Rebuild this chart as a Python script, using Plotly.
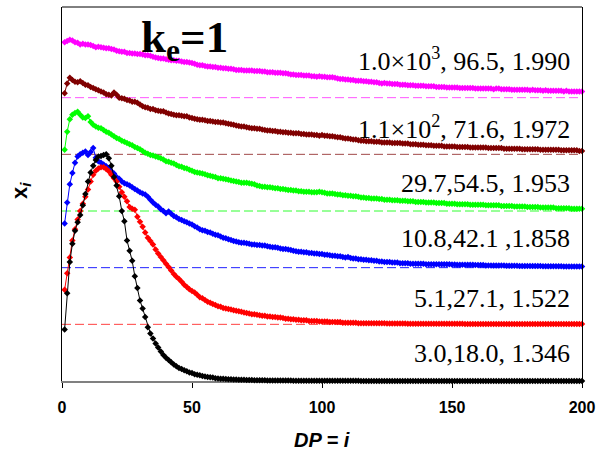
import plotly.graph_objects as go

dp = list(range(1, 201))

black = [
    0.91, 1.55, 2.10, 2.42, 2.65, 2.80, 2.93, 3.10, 3.30, 3.52,
    3.68, 3.80, 3.90, 3.96, 3.97, 3.99, 4.00, 3.93, 3.80, 3.60,
    3.45, 3.26, 3.00, 2.82, 2.48, 2.30, 2.12, 1.85, 1.64, 1.42,
    1.28, 1.13, 0.95, 0.84, 0.75, 0.66, 0.59, 0.52, 0.46, 0.41,
    0.37, 0.33, 0.29, 0.26, 0.23, 0.21, 0.19, 0.17, 0.15, 0.14,
    0.12, 0.11, 0.10, 0.09, 0.08, 0.07, 0.065, 0.06, 0.05, 0.045,
    0.04, 0.04, 0.035, 0.03, 0.03, 0.025, 0.025, 0.02, 0.02, 0.02,
    0.018, 0.017, 0.016, 0.015, 0.014, 0.013, 0.012, 0.012, 0.011, 0.010,
    0.010, 0.009, 0.009, 0.008, 0.008, 0.007, 0.007, 0.007, 0.006, 0.006,
    0.006, 0.005, 0.005, 0.005, 0.005, 0.004, 0.004, 0.004, 0.004, 0.004,
    0.003, 0.003, 0.003, 0.003, 0.003, 0.003, 0.003, 0.003, 0.003, 0.003,
    0.003, 0.003, 0.003, 0.003, 0.002, 0.002, 0.002, 0.002, 0.002, 0.002,
    0.002, 0.002, 0.002, 0.002, 0.002, 0.002, 0.002, 0.002, 0.002, 0.002,
    0.002, 0.002, 0.002, 0.002, 0.002, 0.002, 0.0015, 0.0015, 0.0015, 0.0015,
    0.0015, 0.0015, 0.0015, 0.0015, 0.0015, 0.0015, 0.0015, 0.0015, 0.0015, 0.0015,
    0.001, 0.001, 0.001, 0.001, 0.001, 0.001, 0.001, 0.001, 0.001, 0.001,
    0.001, 0.001, 0.001, 0.001, 0.001, 0.001, 0.001, 0.001, 0.001, 0.001,
    0.001, 0.001, 0.001, 0.001, 0.001, 0.001, 0.001, 0.001, 0.001, 0.001,
    0.001, 0.001, 0.001, 0.001, 0.001, 0.001, 0.001, 0.001, 0.001, 0.001,
    0.001, 0.001, 0.001, 0.001, 0.001, 0.001, 0.001, 0.001, 0.001, 0.001,
]

red = [
    0.61, 0.90, 1.18, 1.48, 1.68, 1.85, 2.00, 2.13, 2.25, 2.38,
    2.52, 2.64, 2.71, 2.75, 2.77, 2.77, 2.74, 2.70, 2.64, 2.58,
    2.52, 2.43, 2.33, 2.25, 2.17, 2.07, 2.04, 2.02, 1.90, 1.81,
    1.72, 1.62, 1.53, 1.47, 1.41, 1.32, 1.25, 1.19, 1.13, 1.07,
    1.01, 0.95, 0.89, 0.84, 0.80, 0.75, 0.70, 0.66, 0.62, 0.59,
    0.56, 0.52, 0.48, 0.46, 0.43, 0.40, 0.38, 0.36, 0.34, 0.32,
    0.31, 0.29, 0.28, 0.27, 0.26, 0.25, 0.24, 0.23, 0.22, 0.21,
    0.20, 0.19, 0.18, 0.18, 0.17, 0.16, 0.15, 0.15, 0.14, 0.14,
    0.13, 0.13, 0.12, 0.12, 0.11, 0.10, 0.10, 0.09, 0.09, 0.08,
    0.08, 0.07, 0.07, 0.07, 0.06, 0.06, 0.06, 0.06, 0.05, 0.05,
    0.05, 0.05, 0.04, 0.04, 0.04, 0.04, 0.04, 0.03, 0.03, 0.03,
    0.03, 0.03, 0.03, 0.02, 0.02, 0.02, 0.02, 0.02, 0.02, 0.02,
    0.02, 0.02, 0.02, 0.02, 0.015, 0.015, 0.015, 0.015, 0.015, 0.015,
    0.015, 0.015, 0.012, 0.012, 0.012, 0.012, 0.012, 0.012, 0.012, 0.012,
    0.010, 0.010, 0.010, 0.010, 0.010, 0.010, 0.010, 0.010, 0.010, 0.010,
    0.010, 0.010, 0.010, 0.010, 0.008, 0.008, 0.008, 0.008, 0.008, 0.008,
    0.008, 0.008, 0.007, 0.007, 0.007, 0.007, 0.007, 0.007, 0.007, 0.007,
    0.006, 0.006, 0.006, 0.006, 0.006, 0.006, 0.006, 0.006, 0.006, 0.006,
    0.005, 0.005, 0.005, 0.005, 0.005, 0.005, 0.005, 0.005, 0.005, 0.005,
    0.005, 0.005, 0.005, 0.005, 0.004, 0.004, 0.004, 0.004, 0.004, 0.004,
]

blue = [
    0.78, 1.15, 1.47, 1.67, 1.85, 1.96, 2.00, 2.03, 2.05, 1.99,
    2.04, 2.11, 1.94, 1.88, 1.85, 1.82, 1.79, 1.76, 1.70, 1.66,
    1.60, 1.57, 1.52, 1.49, 1.47, 1.45, 1.42, 1.39, 1.36, 1.33,
    1.31, 1.29, 1.25, 1.20, 1.15, 1.11, 1.08, 1.03, 1.00, 0.96,
    0.99, 0.95, 0.91, 0.89, 0.86, 0.84, 0.82, 0.80, 0.78, 0.76,
    0.73, 0.71, 0.68, 0.66, 0.65, 0.63, 0.62, 0.60, 0.58, 0.57,
    0.55, 0.53, 0.52, 0.50, 0.49, 0.47, 0.46, 0.45, 0.44, 0.44,
    0.43, 0.42, 0.41, 0.41, 0.40, 0.40, 0.39, 0.39, 0.38, 0.37,
    0.36, 0.36, 0.35, 0.34, 0.33, 0.33, 0.32, 0.31, 0.30, 0.29,
    0.28, 0.28, 0.27, 0.27, 0.26, 0.26, 0.25, 0.25, 0.24, 0.24,
    0.23, 0.23, 0.22, 0.21, 0.21, 0.20, 0.20, 0.19, 0.18, 0.19,
    0.17, 0.16, 0.16, 0.15, 0.15, 0.14, 0.14, 0.13, 0.13, 0.12,
    0.12, 0.11, 0.11, 0.10, 0.10, 0.10, 0.09, 0.09, 0.09, 0.08,
    0.08, 0.08, 0.08, 0.07, 0.07, 0.07, 0.07, 0.07, 0.07, 0.06,
    0.06, 0.06, 0.06, 0.06, 0.06, 0.06, 0.06, 0.06, 0.06, 0.055,
    0.055, 0.05, 0.05, 0.05, 0.05, 0.05, 0.05, 0.05, 0.045, 0.045,
    0.045, 0.045, 0.04, 0.04, 0.04, 0.04, 0.04, 0.04, 0.04, 0.04,
    0.035, 0.035, 0.035, 0.035, 0.035, 0.03, 0.03, 0.03, 0.03, 0.03,
    0.03, 0.03, 0.03, 0.03, 0.025, 0.025, 0.025, 0.025, 0.025, 0.025,
    0.025, 0.025, 0.02, 0.02, 0.02, 0.02, 0.02, 0.02, 0.02, 0.02,
]

green = [
    1.08, 1.40, 1.62, 1.70, 1.73, 1.75, 1.70, 1.65, 1.64, 1.67,
    1.57, 1.52, 1.49, 1.47, 1.46, 1.43, 1.40, 1.38, 1.35, 1.32,
    1.29, 1.27, 1.24, 1.22, 1.20, 1.18, 1.16, 1.13, 1.11, 1.09,
    1.06, 1.03, 1.01, 0.99, 0.98, 0.96, 0.95, 0.93, 0.91, 0.88,
    0.87, 0.85, 0.84, 0.81, 0.79, 0.78, 0.76, 0.75, 0.73, 0.71,
    0.69, 0.68, 0.67, 0.66, 0.65, 0.63, 0.62, 0.61, 0.60, 0.58,
    0.58, 0.57, 0.56, 0.55, 0.54, 0.53, 0.52, 0.51, 0.50, 0.50,
    0.50, 0.49, 0.48, 0.47, 0.45, 0.44, 0.43, 0.43, 0.42, 0.42,
    0.41, 0.40, 0.40, 0.39, 0.39, 0.38, 0.37, 0.37, 0.36, 0.36,
    0.35, 0.35, 0.34, 0.34, 0.34, 0.33, 0.33, 0.33, 0.34, 0.33,
    0.32, 0.31, 0.31, 0.31, 0.30, 0.29, 0.29, 0.28, 0.28, 0.27,
    0.27, 0.26, 0.26, 0.25, 0.24, 0.24, 0.23, 0.23, 0.22, 0.22,
    0.22, 0.21, 0.21, 0.20, 0.20, 0.20, 0.19, 0.19, 0.19, 0.18,
    0.18, 0.18, 0.17, 0.17, 0.17, 0.16, 0.16, 0.16, 0.16, 0.15,
    0.15, 0.15, 0.15, 0.14, 0.14, 0.14, 0.14, 0.13, 0.13, 0.13,
    0.13, 0.12, 0.12, 0.12, 0.12, 0.12, 0.11, 0.11, 0.11, 0.11,
    0.11, 0.11, 0.10, 0.10, 0.10, 0.10, 0.10, 0.10, 0.09, 0.09,
    0.09, 0.09, 0.09, 0.08, 0.08, 0.08, 0.08, 0.08, 0.07, 0.07,
    0.07, 0.07, 0.07, 0.06, 0.06, 0.06, 0.06, 0.06, 0.06, 0.05,
    0.05, 0.05, 0.05, 0.05, 0.05, 0.04, 0.04, 0.04, 0.04, 0.04,
]

brown = [
    1.08, 1.25, 1.35, 1.31, 1.28, 1.27, 1.29, 1.26, 1.23, 1.22,
    1.19, 1.17, 1.15, 1.13, 1.11, 1.09, 1.06, 1.05, 1.04, 1.09,
    1.05, 1.00, 0.99, 0.98, 0.96, 0.95, 0.93, 0.93, 0.91, 0.88,
    0.85, 0.83, 0.82, 0.80, 0.80, 0.78, 0.77, 0.76, 0.76, 0.74,
    0.72, 0.71, 0.70, 0.69, 0.69, 0.68, 0.67, 0.67, 0.65, 0.64,
    0.63, 0.62, 0.61, 0.61, 0.60, 0.59, 0.59, 0.58, 0.57, 0.57,
    0.56, 0.56, 0.55, 0.54, 0.53, 0.52, 0.51, 0.50, 0.49, 0.49,
    0.48, 0.47, 0.46, 0.46, 0.45, 0.45, 0.44, 0.43, 0.42, 0.42,
    0.41, 0.41, 0.40, 0.40, 0.39, 0.39, 0.38, 0.38, 0.37, 0.37,
    0.37, 0.36, 0.36, 0.35, 0.35, 0.35, 0.34, 0.34, 0.33, 0.34,
    0.33, 0.33, 0.32, 0.32, 0.31, 0.30, 0.30, 0.29, 0.28, 0.28,
    0.27, 0.26, 0.26, 0.25, 0.24, 0.24, 0.23, 0.23, 0.23, 0.22,
    0.22, 0.22, 0.21, 0.21, 0.21, 0.21, 0.20, 0.20, 0.20, 0.20,
    0.19, 0.19, 0.19, 0.18, 0.18, 0.18, 0.17, 0.17, 0.17, 0.16,
    0.16, 0.16, 0.15, 0.15, 0.15, 0.15, 0.14, 0.14, 0.14, 0.14,
    0.14, 0.13, 0.13, 0.13, 0.13, 0.13, 0.12, 0.12, 0.12, 0.12,
    0.12, 0.12, 0.12, 0.11, 0.11, 0.11, 0.11, 0.11, 0.11, 0.10,
    0.10, 0.10, 0.10, 0.10, 0.10, 0.10, 0.09, 0.09, 0.09, 0.09,
    0.09, 0.09, 0.09, 0.08, 0.08, 0.08, 0.08, 0.08, 0.08, 0.08,
    0.08, 0.07, 0.07, 0.07, 0.07, 0.07, 0.07, 0.07, 0.06, 0.06,
]

magenta = [
    0.98, 1.00, 1.02, 1.01, 0.98, 0.97, 0.94, 0.95, 0.94, 0.94,
    0.93, 0.91, 0.89, 0.90, 0.89, 0.88, 0.87, 0.87, 0.86, 0.85,
    0.83, 0.82, 0.81, 0.81, 0.79, 0.79, 0.78, 0.78, 0.77, 0.77,
    0.76, 0.75, 0.75, 0.74, 0.72, 0.71, 0.70, 0.69, 0.69, 0.68,
    0.67, 0.66, 0.66, 0.65, 0.65, 0.64, 0.63, 0.63, 0.62, 0.61,
    0.60, 0.58, 0.57, 0.57, 0.56, 0.55, 0.55, 0.54, 0.54, 0.53,
    0.53, 0.52, 0.52, 0.51, 0.51, 0.50, 0.49, 0.49, 0.49, 0.48,
    0.48, 0.48, 0.48, 0.47, 0.47, 0.47, 0.46, 0.46, 0.45, 0.45,
    0.45, 0.44, 0.44, 0.44, 0.43, 0.43, 0.42, 0.41, 0.41, 0.40,
    0.40, 0.40, 0.39, 0.39, 0.39, 0.38, 0.38, 0.37, 0.38, 0.37,
    0.37, 0.36, 0.36, 0.36, 0.35, 0.34, 0.33, 0.33, 0.32, 0.32,
    0.31, 0.31, 0.30, 0.30, 0.30, 0.29, 0.29, 0.28, 0.28, 0.27,
    0.27, 0.26, 0.25, 0.26, 0.25, 0.25, 0.24, 0.24, 0.24, 0.23,
    0.23, 0.23, 0.22, 0.22, 0.22, 0.21, 0.21, 0.21, 0.21, 0.20,
    0.20, 0.20, 0.20, 0.19, 0.19, 0.19, 0.19, 0.18, 0.18, 0.18,
    0.18, 0.18, 0.17, 0.17, 0.17, 0.17, 0.17, 0.17, 0.16, 0.16,
    0.16, 0.16, 0.16, 0.16, 0.16, 0.15, 0.16, 0.16, 0.15, 0.15,
    0.15, 0.15, 0.14, 0.14, 0.14, 0.14, 0.14, 0.14, 0.14, 0.13,
    0.14, 0.13, 0.13, 0.13, 0.12, 0.13, 0.12, 0.12, 0.12, 0.12,
    0.12, 0.12, 0.11, 0.12, 0.11, 0.11, 0.11, 0.11, 0.11, 0.11,
]

series = [black, red, blue, green, brown, magenta]
labels = [
    "3.0,18.0, 1.346",
    "5.1,27.1, 1.522",
    "10.8,42.1 ,1.858",
    "29.7,54.5, 1.953",
    "1.1\u00d710<sup>2</sup>, 71.6, 1.972",
    "1.0\u00d710<sup>3</sup>, 96.5, 1.990",
]
title_text = "k<sub>e</sub>=1"
for s in series:
    assert len(s) == 200, len(s)

# layout / style
offsets = [0, 1, 2, 3, 4, 5]
colors = ["#000000", "#FF0000", "#0000FF", "#00FF00", "#800000", "#FF00FF"]
dash_colors = ["#000000", "#FF4040", "#2020FF", "#30FF30", "#A04848", "#FF55FF"]
label_y = [0.48, 1.45, 2.52, 3.49, 4.48, 5.67]

fig = go.Figure()

# dashed baselines
for k in range(1, 6):
    fig.add_trace(go.Scatter(
        x=[0, 200], y=[offsets[k], offsets[k]], mode="lines",
        line=dict(color=dash_colors[k], width=1, dash="9px,4px"),
        hoverinfo="skip", showlegend=False))

# curves (top first, black last)
for k in range(5, -1, -1):
    fig.add_trace(go.Scatter(
        x=dp, y=[v + offsets[k] for v in series[k]], mode="lines+markers",
        line=dict(color=colors[k], width=1),
        marker=dict(symbol="diamond", size=5, color=colors[k]),
        cliponaxis=False, showlegend=False))

annotations = []
for k in range(6):
    annotations.append(dict(
        x=196.2, y=label_y[k], xref="x", yref="y", xanchor="right", yanchor="middle",
        text=labels[k], showarrow=False,
        font=dict(family="Liberation Serif", size=26, color="black")))

# k_e = 1
annotations.append(dict(x=29.6, y=6.02, xref="x", yref="y", xanchor="left", yanchor="middle",
                        text=title_text, showarrow=False,
                        font=dict(family="Liberation Serif", size=45, color="black",
                                  weight="bold")))

# axis titles
annotations.append(dict(x=0.5, y=-0.1576, xref="paper", yref="paper", xanchor="center",
                        yanchor="middle", text="<b><i>DP = i</i></b>", showarrow=False,
                        font=dict(family="Arial", size=20, color="black")))
annotations.append(dict(x=-0.08, y=0.509, xref="paper", yref="paper", xanchor="center",
                        yanchor="middle", text="<b>x<sub><i>i</i></sub></b>", showarrow=False,
                        textangle=-90,
                        font=dict(family="Arial", size=22, color="black")))

fig.update_layout(
    template="none",
    width=596, height=452, autosize=False,
    margin=dict(l=62, r=14, t=7, b=71, pad=0, autoexpand=False),
    paper_bgcolor="white", plot_bgcolor="white",
    showlegend=False,
    annotations=annotations,
    shapes=[dict(type="line", xref="paper", yref="paper", x0=0, x1=1, y0=1, y1=1,
                 line=dict(color="black", width=1))],
)
fig.update_xaxes(
    automargin=False,
    range=[0, 200], tickvals=[0, 50, 100, 150, 200], ticks="outside", ticklen=5,
    tickcolor="black", tickwidth=1, showgrid=False, zeroline=False,
    showline=True, linecolor="#808080", linewidth=2, layer="below traces",
    tickfont=dict(family="Arial", size=16, color="black", weight="bold"),
    ticklabelstandoff=6,
)
fig.update_yaxes(
    automargin=False,
    range=[0, 6.6], showticklabels=False, ticks="", showgrid=False, zeroline=False,
    showline=True, linecolor="black", linewidth=1, mirror=True,
)

fig.write_html("out.html")
